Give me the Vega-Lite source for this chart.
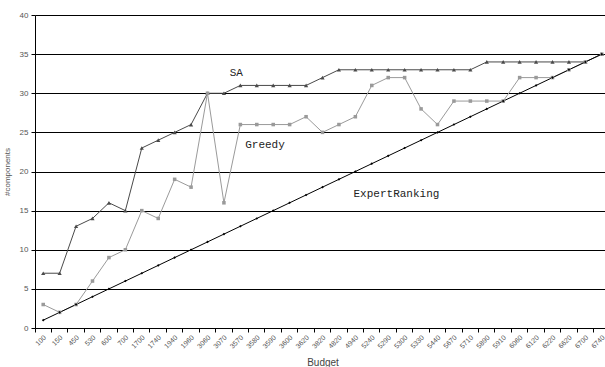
{
  "$schema": "https://vega.github.io/schema/vega-lite/v6.json",
  "autosize": "none",
  "width": 570,
  "height": 313,
  "padding": {"left": 35, "top": 15, "right": 0, "bottom": 39},
  "background": "white",
  "config": {
    "view": {"stroke": null},
    "axis": {"labelFont": "Liberation Sans", "titleFont": "Liberation Sans"}
  },
  "datasets": {
    "series": [
      {"budget": 100, "method": "SA", "components": 7},
      {"budget": 150, "method": "SA", "components": 7},
      {"budget": 450, "method": "SA", "components": 13},
      {"budget": 530, "method": "SA", "components": 14},
      {"budget": 600, "method": "SA", "components": 16},
      {"budget": 700, "method": "SA", "components": 15},
      {"budget": 1700, "method": "SA", "components": 23},
      {"budget": 1740, "method": "SA", "components": 24},
      {"budget": 1940, "method": "SA", "components": 25},
      {"budget": 1960, "method": "SA", "components": 26},
      {"budget": 3060, "method": "SA", "components": 30},
      {"budget": 3070, "method": "SA", "components": 30},
      {"budget": 3570, "method": "SA", "components": 31},
      {"budget": 3580, "method": "SA", "components": 31},
      {"budget": 3590, "method": "SA", "components": 31},
      {"budget": 3600, "method": "SA", "components": 31},
      {"budget": 3620, "method": "SA", "components": 31},
      {"budget": 3820, "method": "SA", "components": 32},
      {"budget": 4820, "method": "SA", "components": 33},
      {"budget": 4940, "method": "SA", "components": 33},
      {"budget": 5240, "method": "SA", "components": 33},
      {"budget": 5290, "method": "SA", "components": 33},
      {"budget": 5300, "method": "SA", "components": 33},
      {"budget": 5330, "method": "SA", "components": 33},
      {"budget": 5440, "method": "SA", "components": 33},
      {"budget": 5670, "method": "SA", "components": 33},
      {"budget": 5710, "method": "SA", "components": 33},
      {"budget": 5890, "method": "SA", "components": 34},
      {"budget": 5910, "method": "SA", "components": 34},
      {"budget": 6060, "method": "SA", "components": 34},
      {"budget": 6120, "method": "SA", "components": 34},
      {"budget": 6220, "method": "SA", "components": 34},
      {"budget": 6620, "method": "SA", "components": 34},
      {"budget": 6700, "method": "SA", "components": 34},
      {"budget": 6740, "method": "SA", "components": 35},

      {"budget": 100, "method": "Greedy", "components": 3},
      {"budget": 150, "method": "Greedy", "components": 2},
      {"budget": 450, "method": "Greedy", "components": 3},
      {"budget": 530, "method": "Greedy", "components": 6},
      {"budget": 600, "method": "Greedy", "components": 9},
      {"budget": 700, "method": "Greedy", "components": 10},
      {"budget": 1700, "method": "Greedy", "components": 15},
      {"budget": 1740, "method": "Greedy", "components": 14},
      {"budget": 1940, "method": "Greedy", "components": 19},
      {"budget": 1960, "method": "Greedy", "components": 18},
      {"budget": 3060, "method": "Greedy", "components": 30},
      {"budget": 3070, "method": "Greedy", "components": 16},
      {"budget": 3570, "method": "Greedy", "components": 26},
      {"budget": 3580, "method": "Greedy", "components": 26},
      {"budget": 3590, "method": "Greedy", "components": 26},
      {"budget": 3600, "method": "Greedy", "components": 26},
      {"budget": 3620, "method": "Greedy", "components": 27},
      {"budget": 3820, "method": "Greedy", "components": 25},
      {"budget": 4820, "method": "Greedy", "components": 26},
      {"budget": 4940, "method": "Greedy", "components": 27},
      {"budget": 5240, "method": "Greedy", "components": 31},
      {"budget": 5290, "method": "Greedy", "components": 32},
      {"budget": 5300, "method": "Greedy", "components": 32},
      {"budget": 5330, "method": "Greedy", "components": 28},
      {"budget": 5440, "method": "Greedy", "components": 26},
      {"budget": 5670, "method": "Greedy", "components": 29},
      {"budget": 5710, "method": "Greedy", "components": 29},
      {"budget": 5890, "method": "Greedy", "components": 29},
      {"budget": 5910, "method": "Greedy", "components": 29},
      {"budget": 6060, "method": "Greedy", "components": 32},
      {"budget": 6120, "method": "Greedy", "components": 32},
      {"budget": 6220, "method": "Greedy", "components": 32},
      {"budget": 6620, "method": "Greedy", "components": 33},
      {"budget": 6700, "method": "Greedy", "components": 34},
      {"budget": 6740, "method": "Greedy", "components": 35},

      {"budget": 100, "method": "ExpertRanking", "components": 1},
      {"budget": 150, "method": "ExpertRanking", "components": 2},
      {"budget": 450, "method": "ExpertRanking", "components": 3},
      {"budget": 530, "method": "ExpertRanking", "components": 4},
      {"budget": 600, "method": "ExpertRanking", "components": 5},
      {"budget": 700, "method": "ExpertRanking", "components": 6},
      {"budget": 1700, "method": "ExpertRanking", "components": 7},
      {"budget": 1740, "method": "ExpertRanking", "components": 8},
      {"budget": 1940, "method": "ExpertRanking", "components": 9},
      {"budget": 1960, "method": "ExpertRanking", "components": 10},
      {"budget": 3060, "method": "ExpertRanking", "components": 11},
      {"budget": 3070, "method": "ExpertRanking", "components": 12},
      {"budget": 3570, "method": "ExpertRanking", "components": 13},
      {"budget": 3580, "method": "ExpertRanking", "components": 14},
      {"budget": 3590, "method": "ExpertRanking", "components": 15},
      {"budget": 3600, "method": "ExpertRanking", "components": 16},
      {"budget": 3620, "method": "ExpertRanking", "components": 17},
      {"budget": 3820, "method": "ExpertRanking", "components": 18},
      {"budget": 4820, "method": "ExpertRanking", "components": 19},
      {"budget": 4940, "method": "ExpertRanking", "components": 20},
      {"budget": 5240, "method": "ExpertRanking", "components": 21},
      {"budget": 5290, "method": "ExpertRanking", "components": 22},
      {"budget": 5300, "method": "ExpertRanking", "components": 23},
      {"budget": 5330, "method": "ExpertRanking", "components": 24},
      {"budget": 5440, "method": "ExpertRanking", "components": 25},
      {"budget": 5670, "method": "ExpertRanking", "components": 26},
      {"budget": 5710, "method": "ExpertRanking", "components": 27},
      {"budget": 5890, "method": "ExpertRanking", "components": 28},
      {"budget": 5910, "method": "ExpertRanking", "components": 29},
      {"budget": 6060, "method": "ExpertRanking", "components": 30},
      {"budget": 6120, "method": "ExpertRanking", "components": 31},
      {"budget": 6220, "method": "ExpertRanking", "components": 32},
      {"budget": 6620, "method": "ExpertRanking", "components": 33},
      {"budget": 6700, "method": "ExpertRanking", "components": 34},
      {"budget": 6740, "method": "ExpertRanking", "components": 35}
    ],
    "labels": [
      {"budget": 3570, "components": 32.2, "text": "SA", "shift": -4},
      {"budget": 3590, "components": 23.0, "text": "Greedy", "shift": -6},
      {"budget": 5290, "components": 16.7, "text": "ExpertRanking", "shift": 2}
    ]
  },
  "encoding": {
    "x": {
      "field": "budget", "type": "ordinal",
      "scale": {"type": "band", "range": [0, 575], "paddingInner": 0, "paddingOuter": 0},
      "axis": {
        "title": "Budget", "titleFontSize": 10, "titleFontWeight": "normal", "titleColor": "#444",
        "titlePadding": 8,
        "bandPosition": 0, "labelOffset": 2,
        "labelAngle": -45, "labelAlign": "right", "labelBaseline": "middle",
        "labelFontSize": 7, "labelColor": "#555", "labelPadding": 4,
        "domainColor": "black", "tickColor": "black", "tickSize": 4,
        "grid": false
      }
    },
    "y": {
      "field": "components", "type": "quantitative",
      "scale": {"domain": [0, 40]},
      "axis": {
        "title": "#components", "titleFontSize": 8, "titleFontWeight": "normal", "titleColor": "#555",
        "titlePadding": 8,
        "values": [0, 5, 10, 15, 20, 25, 30, 35, 40],
        "labelFontSize": 8, "labelColor": "#555", "labelPadding": 3, "labelOverlap": false,
        "domainColor": "black", "tickColor": "black", "tickSize": 4,
        "grid": true, "gridColor": "black", "gridWidth": 1, "gridOpacity": 1
      }
    }
  },
  "layer": [
    {
      "data": {"name": "series"},
      "mark": {"type": "line", "strokeWidth": 1, "clip": false},
      "encoding": {
        "color": {
          "field": "method", "type": "nominal",
          "scale": {"domain": ["SA", "Greedy", "ExpertRanking"], "range": ["#4a4a4a", "#9a9a9a", "#000000"]},
          "legend": null
        },
        "detail": {"field": "method"}
      }
    },
    {
      "data": {"name": "series"},
      "mark": {"type": "point", "filled": true, "opacity": 1, "clip": false},
      "encoding": {
        "color": {"field": "method", "type": "nominal", "legend": null},
        "shape": {
          "field": "method", "type": "nominal",
          "scale": {"domain": ["SA", "Greedy", "ExpertRanking"], "range": ["triangle-up", "square", "diamond"]},
          "legend": null
        },
        "size": {
          "field": "method", "type": "nominal",
          "scale": {"domain": ["SA", "Greedy", "ExpertRanking"], "range": [18, 7, 32]},
          "legend": null
        }
      }
    },
    {
      "data": {"name": "labels"},
      "mark": {"type": "text", "font": "Liberation Mono", "fontSize": 11, "align": "center", "baseline": "alphabetic", "color": "#222"},
      "encoding": {
        "xOffset": {"field": "shift", "type": "quantitative", "scale": {"type": "identity"}},
        "text": {"field": "text"}
      }
    }
  ]
}
